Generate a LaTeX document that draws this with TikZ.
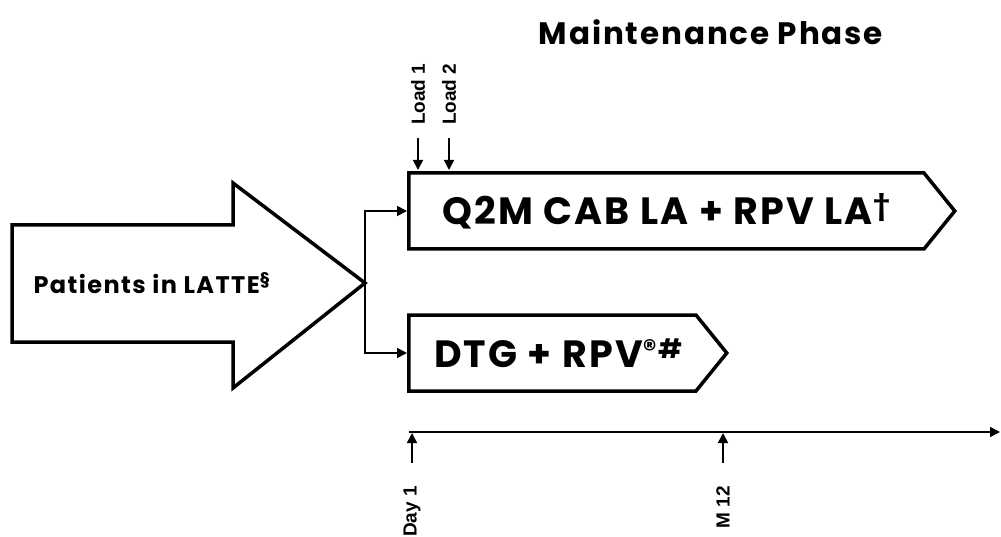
\documentclass[tikz,border=0pt]{standalone}
\usepackage{fontspec}
\newfontfamily\gothic{Poppins}[LetterSpace=6]
\newfontfamily\arialf{Liberation Sans}
\usetikzlibrary{positioning,arrows.meta,shapes.symbols}

\begin{document}
\begin{tikzpicture}[
  x=1pt, y=-1pt,
  big/.style={font=\gothic\bfseries\fontsize{38}{42}\selectfont},
  lbl/.style={font=\arialf\bfseries\fontsize{19}{21}\selectfont, rotate=90, inner sep=0pt},
  arm/.style={signal, signal to=east, signal pointer angle=102, draw, line width=3.5pt,
    minimum height=76, inner sep=0pt, anchor=west},
  arr/.style={-{Triangle[length=10pt, width=10pt]}, line width=1.6pt}
]
  \useasboundingbox (0,0) rectangle (1001,537);

  % heading
  \node[font=\gothic\bfseries\fontsize{31}{34}\selectfont] (title) at (711,32) {Maintenance Phase};

  % patients arrow
  \draw[line width=3.5pt, line join=miter]
    (12,225) -- (233,225) -- (233,183) -- (365,283) coordinate (tip)
    -- (233,388) -- (233,342) -- (12,342) -- cycle;
  \node[font=\gothic\bfseries\fontsize{24}{28}\selectfont, anchor=west] (pat) at (30,283) {Patients in LATTE\textsuperscript{§}};

  % arms
  \node[arm, big, minimum width=546] (q2m) at (407,211) {Q2M CAB LA + RPV LA\textsuperscript{†}};
  \node[arm, big, minimum width=318] (dtg) at (407,353) {\hspace*{12pt}DTG + RPV\textsuperscript{®\#}};

  \draw[arr] (tip) |- (q2m.west);
  \draw[arr] (tip) |- (dtg.west);

  % loading doses
  \foreach \x/\t in {418/Load 1, 449/Load 2} {
    \node[lbl, anchor=west] (ld\x) at (\x,125) {\t};
    \draw[arr] (\x,138) -- (\x,170);
  }

  % time axis
  \coordinate (t0) at (409,432);
  \coordinate (tend) at (1000,432);
  \draw[arr] (t0) -- (tend);
  \foreach \x/\t in {412/Day 1, 723/M 12} {
    \coordinate (tk\x) at (\x,433);
    \node[lbl, anchor=east] (tl\x) at (\x,486) {\t};
    \draw[arr] (\x,463) -- (tk\x);
  }
\end{tikzpicture}
\end{document}
